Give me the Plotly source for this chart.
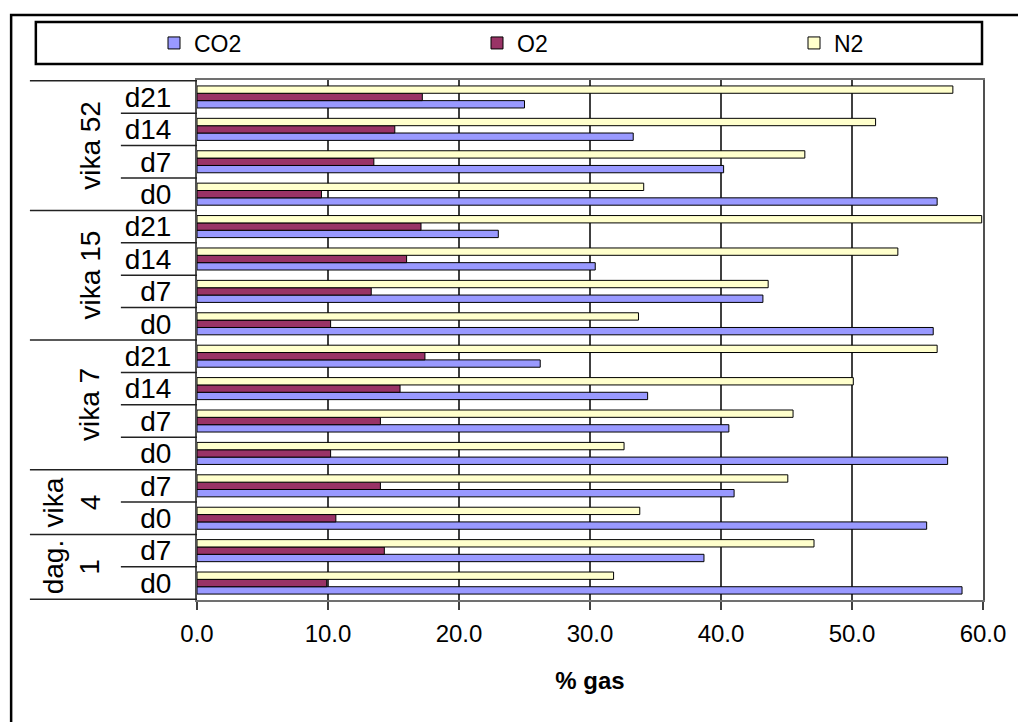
import plotly.graph_objects as go

# ---- data (bottom row first) ----
groups = ["dag. 1", "dag. 1", "vika 4", "vika 4",
          "vika 7", "vika 7", "vika 7", "vika 7",
          "vika 15", "vika 15", "vika 15", "vika 15",
          "vika 52", "vika 52", "vika 52", "vika 52"]
days = ["d0", "d7", "d0", "d7",
        "d0", "d7", "d14", "d21",
        "d0", "d7", "d14", "d21",
        "d0", "d7", "d14", "d21"]
co2 = [58.4, 38.7, 55.7, 41.0, 57.3, 40.6, 34.4, 26.2,
       56.2, 43.2, 30.4, 23.0, 56.5, 40.2, 33.3, 25.0]
o2 = [9.9, 14.3, 10.6, 14.0, 10.2, 14.0, 15.5, 17.4,
      10.2, 13.3, 16.0, 17.1, 9.5, 13.5, 15.1, 17.2]
n2 = [31.8, 47.1, 33.8, 45.1, 32.6, 45.5, 50.1, 56.5,
      33.7, 43.6, 53.5, 59.9, 34.1, 46.4, 51.8, 57.7]
group_names = ["dag. 1", "vika 4", "vika 7", "vika 15", "vika 52"]
group_labels = ["dag.<br>1", "vika<br>4", "vika 7", "vika 15", "vika 52"]
x_ticks = [0, 10, 20, 30, 40, 50, 60]

cats = [f"{g} {d}" for g, d in zip(groups, days)]

W, H = 1018, 722
L, R, T, B = 197, 992, 80, 600


def px_x(p):
    return (p - L) / (R - L)


def px_y(p):
    return (B - p) / (B - T)


FONT = "Liberation Sans, Arial, sans-serif"

fig = go.Figure()
series = [("CO2", co2, "#9999FF", "legend", 190),
          ("O2", o2, "#993366", "legend2", 513),
          ("N2", n2, "#FFFFCC", "legend3", 830)]
legend_defs = {}
for name, vals, col, lg, text_x in series:
    fig.add_trace(go.Bar(
        name=name, y=cats, x=vals, orientation="h", legend=lg,
        showlegend=True,
        marker=dict(color=col, line=dict(color="#000000", width=1)),
    ))
    legend_defs[lg] = dict(
        orientation="h", xref="container", yref="container",
        x=(text_x - 36) / W, xanchor="left",
        y=1 - 43 / H, yanchor="middle",
        bgcolor="rgba(0,0,0,0)", borderwidth=0,
        font=dict(family=FONT, size=23, color="#000000"))

shapes = []
n = len(cats)
for i in range(n + 1):
    pos = i - 0.5
    if i == 0 or i == n or groups[i - 1] != groups[i]:
        x0 = px_x(28)
    else:
        x0 = px_x(120)
    shapes.append(dict(type="line", xref="paper", yref="y", x0=x0, x1=0,
                       y0=pos, y1=pos, line=dict(color="#222222", width=1.5)))
# outer frame
shapes.append(dict(type="rect", xref="paper", yref="paper",
                   x0=px_x(9), x1=px_x(1040), y0=px_y(15), y1=px_y(760),
                   line=dict(color="#000000", width=2.5), fillcolor="rgba(0,0,0,0)"))
# legend box
shapes.append(dict(type="rect", xref="paper", yref="paper",
                   x0=px_x(34), x1=px_x(991), y0=px_y(22), y1=px_y(64),
                   line=dict(color="#000000", width=2.5), fillcolor="rgba(0,0,0,0)"))

annotations = []
for gname, glabel in zip(group_names, group_labels):
    idx = [i for i, g in enumerate(groups) if g == gname]
    center = (idx[0] + idx[-1]) / 2
    xc = 70 if "<br>" in glabel else 89
    annotations.append(dict(
        text=glabel, xref="paper", yref="y", x=px_x(xc), y=center,
        xanchor="center", yanchor="middle", textangle=-90, showarrow=False,
        font=dict(family=FONT, size=28, color="#000000")))

fig.update_layout(
    width=W, height=H,
    margin=dict(l=L, r=W - R, t=T, b=H - B, pad=0),
    paper_bgcolor="white", plot_bgcolor="white",
    showlegend=True,
    barmode="group", bargap=0.32, bargroupgap=0,
    font=dict(family=FONT, size=24, color="#000000"),
    shapes=shapes, annotations=annotations,
    xaxis=dict(range=[0, 60], tickvals=x_ticks, tickformat=".1f",
               showgrid=True, gridcolor="#404040", gridwidth=1.5,
               zeroline=False, showline=True, linecolor="#707070", linewidth=2,
               mirror=True, ticks="outside", ticklen=8, tickcolor="#404040",
               tickwidth=1.5, ticklabelstandoff=3,
               tickfont=dict(family=FONT, size=24, color="#000000"),
               title=dict(text="<b>% gas</b>", standoff=26,
                          font=dict(family=FONT, size=24, color="#000000"))),
    yaxis=dict(type="category", categoryorder="array", categoryarray=cats,
               tickvals=cats, ticktext=days, showgrid=False, zeroline=False,
               showline=True, linecolor="#505050", linewidth=2, mirror=True,
               ticks="outside", ticklen=18, tickcolor="rgba(0,0,0,0)",
               tickfont=dict(family=FONT, size=28, color="#000000")),
)
fig.update_layout(**legend_defs)

fig.write_html("out.html", config={"displayModeBar": False},
               post_script="document.body.style.margin='0';document.body.style.padding='0';")
